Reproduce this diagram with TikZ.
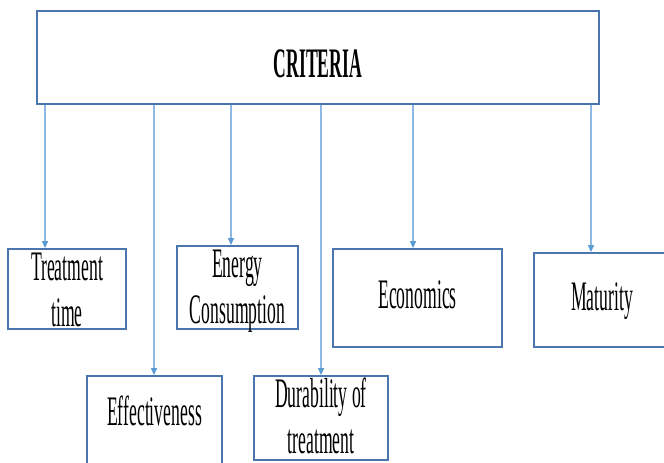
\documentclass[tikz,border=0pt]{standalone}
\usepackage{fontspec}
\setmainfont[FakeStretch=0.42]{Liberation Serif}
\usetikzlibrary{arrows.meta}
\definecolor{boxline}{HTML}{4A76AD}
\definecolor{linkline}{HTML}{8DB8E2}
\definecolor{linktip}{HTML}{5B9BD5}
\tikzset{
	critbox/.style={draw=boxline,line width=1.8pt,fill=white,align=center,inner sep=0pt,
		font=\fontsize{42}{46}\selectfont},
	link/.style={draw=linkline,line width=1.1pt,-{Triangle[length=7pt,width=6pt,color=linktip]}}
}

\begin{document}
\begin{tikzpicture}[x=1pt,y=-1pt]
	\useasboundingbox (0,0) rectangle (664,463);

	\node[critbox,minimum width=562,minimum height=93,text height=39pt,text depth=0pt,
		font=\fontsize{42}{46}\selectfont\bfseries] (criteria) at (318,57.5) {CRITERIA};

	\node[critbox,minimum width=118,minimum height=80,text height=74pt,text depth=0pt] (time) at (67,289) {Treatment\\time};
	\node[critbox,minimum width=121,minimum height=83,text height=72pt,text depth=1pt] (energy) at (237.5,287.5) {Energy\\Consumption};
	\node[critbox,minimum width=169,minimum height=98,text height=20pt,text depth=0pt] (econ) at (417.5,298) {Economics};
	\node[critbox,minimum width=136,minimum height=94,text height=20pt,text depth=0pt] (mature) at (602,300) {Maturity};
	\node[critbox,minimum width=135,minimum height=104,text height=26pt,text depth=32pt] (effect) at (154.5,428) {Effectiveness};
	\node[critbox,minimum width=134,minimum height=84,text height=72pt,text depth=2pt] (durab) at (321,418) {Durability of\\treatment};

	\foreach \n/\x in {time/45,effect/154,energy/231,durab/321,econ/413,mature/591}
		\draw[link] (criteria.south -| \x,0) -- (\n.north -| \x,0);

\end{tikzpicture}
\end{document}
